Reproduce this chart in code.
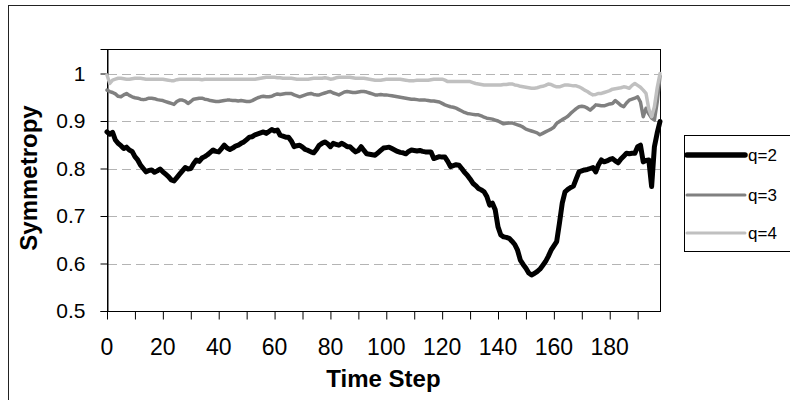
<!DOCTYPE html>
<html>
<head>
<meta charset="utf-8">
<script src="https://cdn.jsdelivr.net/npm/d3@7"></script>
<style>
  body { margin: 0; background: #ffffff; }
  text { font-family: Arial, "Liberation Sans", sans-serif; fill: #000; }
</style>
</head>
<body>
<div id="chart"></div>
<script>
// symmetropy per time step, t = 0..198
var q2 = [
  0.877, 0.872, 0.876, 0.860, 0.853, 0.848, 0.842, 0.845, 0.839, 0.836, 0.825,
  0.818, 0.807, 0.800, 0.793, 0.796, 0.797, 0.792, 0.795, 0.799, 0.793,
  0.788, 0.783, 0.776, 0.774, 0.781, 0.788, 0.795, 0.802, 0.799, 0.800,
  0.810, 0.818, 0.815, 0.822, 0.825, 0.829, 0.834, 0.839, 0.836, 0.835,
  0.842, 0.849, 0.843, 0.840, 0.843, 0.847, 0.849, 0.853, 0.856, 0.861,
  0.866, 0.867, 0.871, 0.873, 0.875, 0.877, 0.874, 0.878, 0.882, 0.879,
  0.881, 0.870, 0.868, 0.866, 0.866, 0.858, 0.846, 0.848, 0.849, 0.845,
  0.840, 0.838, 0.835, 0.833, 0.840, 0.849, 0.853, 0.856, 0.852, 0.846,
  0.853, 0.851, 0.849, 0.853, 0.850, 0.846, 0.846, 0.840, 0.835, 0.838,
  0.846, 0.838, 0.831, 0.830, 0.829, 0.828, 0.833, 0.838, 0.843, 0.844,
  0.845, 0.842, 0.839, 0.836, 0.834, 0.833, 0.831, 0.836, 0.839, 0.838,
  0.837, 0.838, 0.836, 0.835, 0.835, 0.835, 0.821, 0.823, 0.825, 0.824,
  0.824, 0.815, 0.804, 0.806, 0.808, 0.807, 0.800, 0.792, 0.786, 0.778,
  0.769, 0.764, 0.758, 0.755, 0.751, 0.741, 0.723, 0.727, 0.713, 0.677,
  0.660, 0.656, 0.655, 0.653, 0.647, 0.640, 0.628, 0.607, 0.598, 0.590,
  0.580, 0.576, 0.579, 0.583, 0.588, 0.596, 0.604, 0.615, 0.628, 0.637,
  0.646, 0.685, 0.727, 0.751, 0.756, 0.760, 0.763, 0.778, 0.793, 0.795,
  0.797, 0.798, 0.800, 0.802, 0.793, 0.808, 0.818, 0.814, 0.816, 0.819,
  0.821, 0.816, 0.812, 0.820, 0.826, 0.832, 0.831, 0.832, 0.832, 0.846,
  0.849, 0.814, 0.817, 0.818, 0.762, 0.846, 0.875, 0.899
];

var q3 = [
  0.965, 0.962, 0.960, 0.957, 0.952, 0.951, 0.955, 0.958, 0.954, 0.951, 0.949,
  0.948, 0.946, 0.945, 0.946, 0.948, 0.948, 0.947, 0.945, 0.944, 0.943,
  0.941, 0.939, 0.937, 0.935, 0.941, 0.944, 0.944, 0.942, 0.937, 0.941,
  0.946, 0.947, 0.948, 0.948, 0.946, 0.945, 0.943, 0.942, 0.941, 0.941,
  0.942, 0.943, 0.944, 0.944, 0.943, 0.943, 0.942, 0.943, 0.942, 0.941,
  0.941, 0.943, 0.946, 0.949, 0.951, 0.952, 0.951, 0.951, 0.952, 0.955,
  0.957, 0.956, 0.957, 0.958, 0.958, 0.958, 0.955, 0.953, 0.951, 0.953,
  0.955, 0.957, 0.958, 0.956, 0.955, 0.955, 0.957, 0.959, 0.961, 0.962,
  0.959, 0.957, 0.955, 0.958, 0.961, 0.962, 0.961, 0.960, 0.960, 0.961,
  0.962, 0.962, 0.961, 0.959, 0.957, 0.955, 0.955, 0.956, 0.955, 0.955,
  0.954, 0.953, 0.952, 0.951, 0.950, 0.949, 0.948, 0.947, 0.946, 0.946,
  0.945, 0.944, 0.944, 0.944, 0.943, 0.942, 0.942, 0.941, 0.940, 0.937,
  0.934, 0.932, 0.930, 0.929, 0.927, 0.924, 0.921, 0.918, 0.916, 0.915,
  0.914, 0.913, 0.913, 0.911, 0.908, 0.906, 0.905, 0.904, 0.902, 0.900,
  0.897, 0.894, 0.895, 0.896, 0.896, 0.894, 0.892, 0.890, 0.887, 0.883,
  0.881, 0.879, 0.877, 0.875, 0.871, 0.874, 0.877, 0.880, 0.883, 0.887,
  0.895, 0.899, 0.903, 0.906, 0.910, 0.916, 0.921, 0.926, 0.930, 0.931,
  0.930, 0.927, 0.923, 0.928, 0.934, 0.933, 0.932, 0.932, 0.934, 0.936,
  0.937, 0.943, 0.938, 0.933, 0.930, 0.938, 0.944, 0.946, 0.948, 0.951,
  0.940, 0.909, 0.927, 0.915, 0.906, 0.902, 0.940, 0.995
];

var q4 = [
  0.997, 0.979, 0.986, 0.988, 0.990, 0.990, 0.989, 0.988, 0.988, 0.989, 0.990,
  0.990, 0.990, 0.989, 0.988, 0.988, 0.988, 0.988, 0.988, 0.988, 0.988,
  0.987, 0.986, 0.985, 0.985, 0.987, 0.988, 0.988, 0.988, 0.988, 0.988,
  0.988, 0.988, 0.988, 0.987, 0.988, 0.988, 0.988, 0.988, 0.988, 0.988,
  0.988, 0.988, 0.988, 0.988, 0.988, 0.988, 0.988, 0.988, 0.988, 0.988,
  0.988, 0.988, 0.988, 0.989, 0.990, 0.991, 0.992, 0.992, 0.992, 0.992,
  0.991, 0.991, 0.990, 0.990, 0.990, 0.990, 0.989, 0.988, 0.988, 0.988,
  0.988, 0.988, 0.989, 0.990, 0.990, 0.990, 0.990, 0.991, 0.990, 0.988,
  0.989, 0.991, 0.992, 0.992, 0.992, 0.992, 0.992, 0.991, 0.990, 0.990,
  0.990, 0.990, 0.989, 0.988, 0.987, 0.986, 0.986, 0.986, 0.987, 0.988,
  0.988, 0.988, 0.988, 0.988, 0.988, 0.987, 0.986, 0.985, 0.985, 0.985,
  0.986, 0.986, 0.986, 0.986, 0.986, 0.987, 0.988, 0.988, 0.988, 0.988,
  0.986, 0.983, 0.983, 0.983, 0.983, 0.983, 0.983, 0.983, 0.983, 0.983,
  0.981, 0.979, 0.978, 0.977, 0.976, 0.976, 0.976, 0.976, 0.976, 0.976,
  0.976, 0.977, 0.977, 0.978, 0.978, 0.976, 0.975, 0.973, 0.972, 0.971,
  0.970, 0.969, 0.969, 0.970, 0.972, 0.973, 0.975, 0.978, 0.977, 0.974,
  0.972, 0.972, 0.974, 0.976, 0.976, 0.975, 0.974, 0.974, 0.972, 0.969,
  0.965, 0.962, 0.958, 0.955, 0.956, 0.958, 0.958, 0.960, 0.962, 0.964,
  0.967, 0.968, 0.969, 0.970, 0.972, 0.971, 0.969, 0.975, 0.979, 0.975,
  0.971, 0.965, 0.958, 0.925, 0.909, 0.930, 0.970, 1.000
];

var seriesNames = ["q=2", "q=3", "q=4"];
var yTickValues = [0.5, 0.6, 0.7, 0.8, 0.9, 1];
var gridValues = [0.6, 0.7, 0.8, 0.9, 1];
var xTickMarks = [0, 10, 20, 30, 40, 50, 60, 70, 80, 90, 100, 110, 120, 130, 140, 150, 160, 170, 180, 190];
var xTickLabels = [0, 20, 40, 60, 80, 100, 120, 140, 160, 180];

var w = 790;
var h = 400;

var plotLeft = 107;
var plotRight = 660;
var plotTop = 49;
var plotBot = 311;

var lineColors = ["#000000", "#808080", "#c0c0c0"];
var lineWidths = [5, 3.5, 3.5];
var legendWidths = [5.5, 3, 3];

var svg = d3
  .select("#chart")
  .append("svg")
  .attr("width", w)
  .attr("height", h);

// outer chart frame (runs off the right and bottom edges)
svg
  .append("rect")
  .attr("x", 8.5)
  .attr("y", 5.5)
  .attr("width", 800)
  .attr("height", 420)
  .attr("fill", "#fff")
  .attr("stroke", "#222")
  .attr("stroke-width", 1);

var xScale = d3
  .scaleLinear()
  .domain([0, 198])
  .range([plotLeft, plotRight]);

var yScale = d3
  .scaleLinear()
  .domain([0.5, 1.0516])
  .range([plotBot, plotTop]);

// dashed gridlines
svg
  .append("g")
  .attr("class", "grid")
  .selectAll("line")
  .data(gridValues)
  .enter()
  .append("line")
  .attr("x1", plotLeft + 1)
  .attr("x2", plotRight)
  .attr("y1", function(d) { return Math.round(yScale(d)) + 0.5; })
  .attr("y2", function(d) { return Math.round(yScale(d)) + 0.5; })
  .attr("stroke", "#b4b4b4")
  .attr("stroke-width", 1)
  .attr("stroke-dasharray", "9,5");

// plot frame
svg
  .append("rect")
  .attr("x", plotLeft + 0.5)
  .attr("y", plotTop + 0.5)
  .attr("width", plotRight - plotLeft)
  .attr("height", plotBot - plotTop)
  .attr("fill", "none")
  .attr("stroke", "#000")
  .attr("stroke-width", 1);

var yAxis = d3
  .axisLeft(yScale)
  .tickValues(yTickValues)
  .tickSize(7)
  .tickPadding(15)
  .tickFormat(function(d) { return d === 1 ? "1" : d3.format(".1f")(d); });

svg
  .append("g")
  .attr("class", "yAxis")
  .attr("transform", "translate(" + (plotLeft + 0.5) + ",0)")
  .call(yAxis)
  .call(function(g) {
    g.select(".domain").attr("stroke", "#000");
    g.selectAll(".tick line").attr("stroke", "#000");
    g.selectAll("text").attr("font-size", 21).attr("font-family", null);
  });

var xAxis = d3
  .axisBottom(xScale)
  .tickValues(xTickMarks)
  .tickSize(8)
  .tickFormat("");

svg
  .append("g")
  .attr("class", "xAxis")
  .attr("transform", "translate(0," + (plotBot + 0.5) + ")")
  .call(xAxis)
  .call(function(g) {
    g.select(".domain").remove();
    g.selectAll(".tick line").attr("stroke", "#000");
  });

svg
  .append("g")
  .attr("class", "xLabels")
  .selectAll("text")
  .data(xTickLabels)
  .enter()
  .append("text")
  .attr("x", function(d) { return xScale(d); })
  .attr("y", 355)
  .attr("text-anchor", "middle")
  .attr("font-size", 23)
  .text(function(d) { return d; });

// series lines
var line = d3
  .line()
  .x(function(d, i) { return xScale(i); })
  .y(function(d) { return yScale(d); });

var allSeries = [q2, q3, q4];

svg
  .append("g")
  .attr("class", "lines")
  .selectAll("path")
  .data(allSeries)
  .enter()
  .append("path")
  .attr("d", line)
  .attr("fill", "none")
  .attr("stroke", function(d, i) { return lineColors[i]; })
  .attr("stroke-width", function(d, i) { return lineWidths[i]; })
  .attr("stroke-linejoin", "round")
  .attr("stroke-linecap", "round");

// axis titles
svg
  .append("text")
  .attr("x", (plotLeft + plotRight) / 2)
  .attr("y", 387)
  .attr("text-anchor", "middle")
  .attr("font-size", 24)
  .attr("font-weight", "bold")
  .text("Time Step");

svg
  .append("text")
  .attr("transform", "translate(37,178)rotate(-90)")
  .attr("text-anchor", "middle")
  .attr("font-size", 24)
  .attr("font-weight", "bold")
  .text("Symmetropy");

// legend
var legend = svg.append("g").attr("class", "legend");

legend
  .append("rect")
  .attr("x", 684.5)
  .attr("y", 135.5)
  .attr("width", 120)
  .attr("height", 116)
  .attr("fill", "#fff")
  .attr("stroke", "#000")
  .attr("stroke-width", 1);

var legendRows = [155, 195, 233];

var legendItem = legend
  .selectAll("g.item")
  .data(seriesNames)
  .enter()
  .append("g")
  .attr("class", "item")
  .attr("transform", function(d, i) { return "translate(0," + legendRows[i] + ")"; });

legendItem
  .append("line")
  .attr("x1", 687)
  .attr("x2", 745)
  .attr("stroke", function(d, i) { return lineColors[i]; })
  .attr("stroke-width", function(d, i) { return legendWidths[i]; })
  .attr("stroke-linecap", "round");

legendItem
  .append("text")
  .attr("x", 748)
  .attr("y", 6)
  .attr("font-size", 17)
  .text(function(d) { return d; });
</script>
</body>
</html>
